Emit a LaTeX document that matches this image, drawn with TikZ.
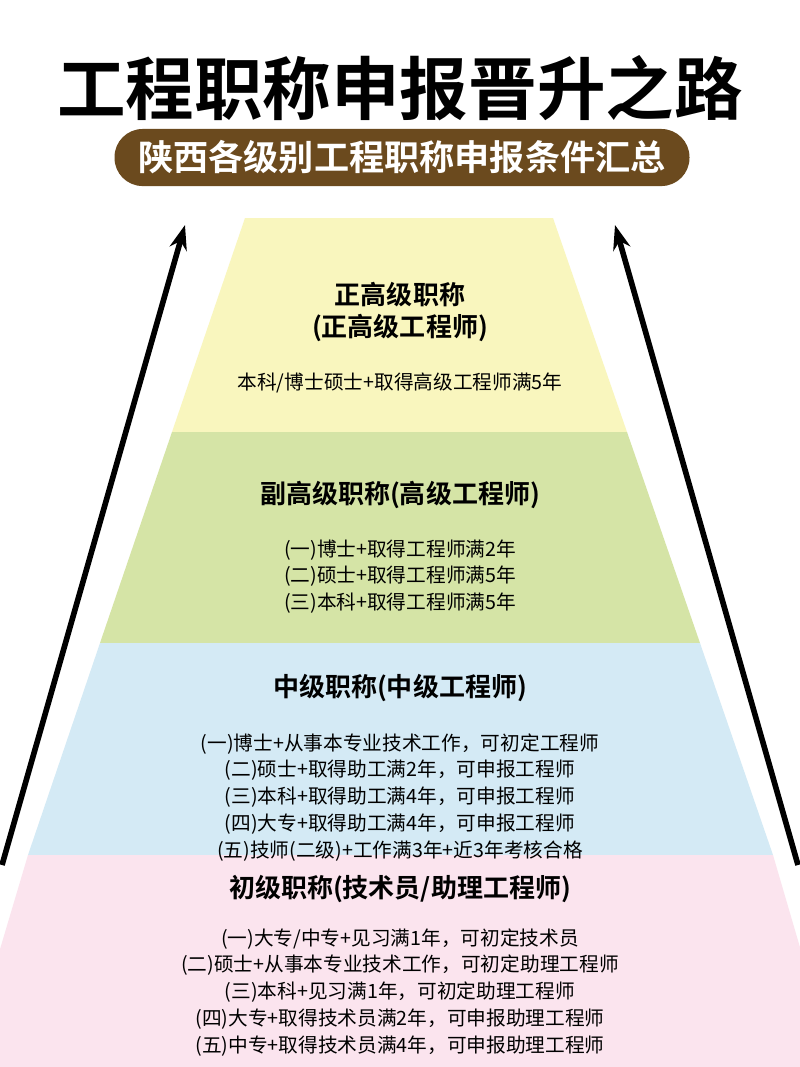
\documentclass[tikz,border=0pt]{standalone}
\usepackage{fontspec}
\setmainfont{Noto Sans CJK SC}[BoldFont={Noto Sans CJK SC Bold}]
\usetikzlibrary{positioning,arrows.meta}
\definecolor{brownbar}{HTML}{6B4A1E}
\definecolor{band1}{HTML}{F9F6BE}
\definecolor{band2}{HTML}{D5E4A6}
\definecolor{band3}{HTML}{D4EAF5}
\definecolor{band4}{HTML}{FBE4EE}
\tikzset{
  head/.style={font=\fontsize{7.4}{9}\selectfont\bfseries, align=center},
  body/.style={font=\fontsize{5.6}{7.6}\selectfont, align=center},
  uparrow/.style={-{Stealth[length=7pt,width=5pt]}, line width=1.6pt}
}
\begin{document}
\begin{tikzpicture}[x=1cm,y=-1cm]
\useasboundingbox (0,0) rectangle (8,10.67);
\fill[white] (0,0) rectangle (8,10.67);

% Titel
\node[font=\fontsize{19.5}{22}\selectfont\bfseries] (title) at (4,0.88) {工程职称申报晋升之路};
\node[fill=brownbar, text=white, rounded corners=8pt, minimum width=5.75cm, minimum height=0.56cm,
  font=\fontsize{10}{12}\selectfont\bfseries] (sub) at (4.02,1.575) {陕西各级别工程职称申报条件汇总};

% Stufen
\fill[band1] (2.45,2.18) -- (5.53,2.18) -- (6.27,4.32) -- (1.72,4.32) -- cycle;
\fill[band2] (1.72,4.32) -- (6.27,4.32) -- (7.00,6.43) -- (1.00,6.43) -- cycle;
\fill[band3] (1.00,6.43) -- (7.00,6.43) -- (7.73,8.55) -- (0.28,8.55) -- cycle;
\fill[band4] (0.28,8.55) -- (7.73,8.55) -- (8.35,10.67) -- (-0.35,10.67) -- cycle;

% Pfeile
\coordinate (la) at (0.02,8.65);
\coordinate (lb) at (1.85,2.25);
\coordinate (ra) at (7.98,8.65);
\coordinate (rb) at (6.15,2.25);
\draw[uparrow] (la) -- (lb);
\draw[uparrow] (ra) -- (rb);

% Texte
\node[head] (h1) at (4,3.12) {正高级职称\\(正高级工程师)};
\node[body, below=-0.06 of h1] (b1) {本科/博士硕士+取得高级工程师满5年};

\node[head] (h2) at (4,4.95) {副高级职称(高级工程师)};
\node[body, below=-0.06 of h2] (b2) {(一)博士+取得工程师满2年\\(二)硕士+取得工程师满5年\\(三)本科+取得工程师满5年};

\node[head] (h3) at (4,6.88) {中级职称(中级工程师)};
\node[body, below=-0.07 of h3] (b3) {(一)博士+从事本专业技术工作，可初定工程师\\(二)硕士+取得助工满2年，可申报工程师\\(三)本科+取得助工满4年，可申报工程师\\(四)大专+取得助工满4年，可申报工程师\\(五)技师(二级)+工作满3年+近3年考核合格};

\node[head] (h4) at (4,8.89) {初级职称(技术员/助理工程师)};
\node[body, below=-0.01 of h4] (b4) {(一)大专/中专+见习满1年，可初定技术员\\(二)硕士+从事本专业技术工作，可初定助理工程师\\(三)本科+见习满1年，可初定助理工程师\\(四)大专+取得技术员满2年，可申报助理工程师\\(五)中专+取得技术员满4年，可申报助理工程师};
\end{tikzpicture}
\end{document}
